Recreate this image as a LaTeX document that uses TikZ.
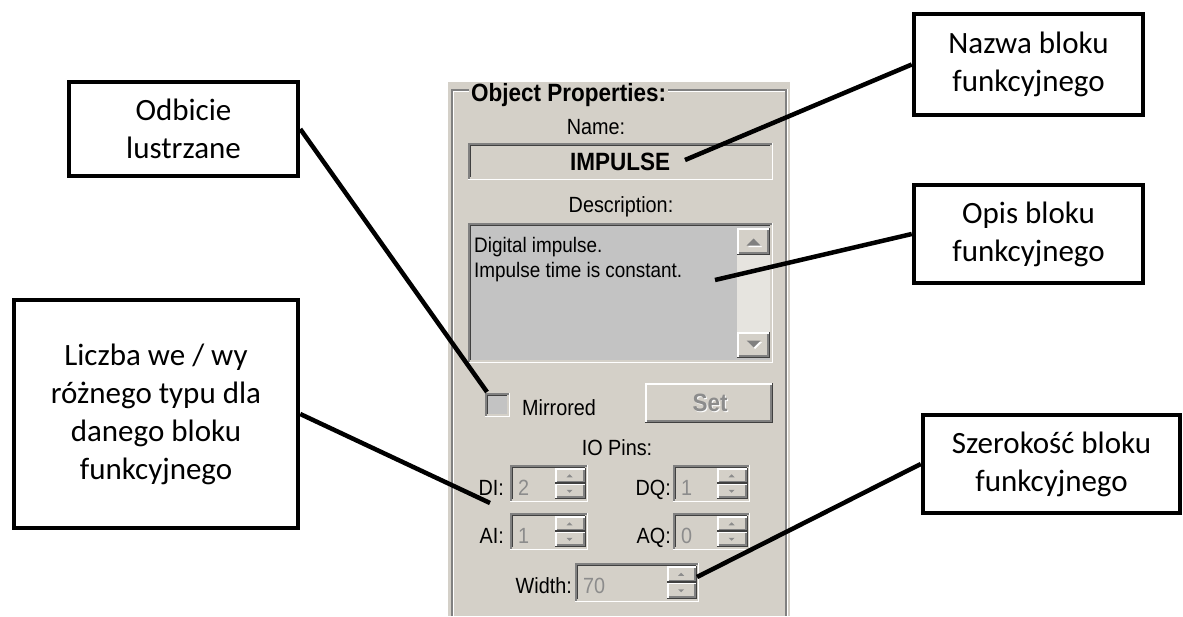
\documentclass[tikz,border=0pt]{standalone}
\usepackage{fontspec}
\setmainfont{Carlito}
\newfontfamily\uifont[FakeStretch=0.9]{Liberation Sans}

\definecolor{winface}{HTML}{D4D0C8}
\definecolor{winshadow}{HTML}{808080}
\definecolor{windark}{HTML}{404040}
\definecolor{winlight}{HTML}{FFFFFF}
\definecolor{winfield}{HTML}{C3C3C3}
\definecolor{wintrack}{HTML}{E6E4DF}
\definecolor{wingray}{HTML}{8C8C8C}

% sunken 3D box: x1 y1 x2 y2 fill
\newcommand\winsunken[5]{%
  \fill[#5] (#1,#2) rectangle (#3,#4);
  \draw[winshadow,line width=1.5] ({#1+0.75},#4) -- ({#1+0.75},{#2+0.75}) -- (#3,{#2+0.75});
  \draw[windark,line width=1.5] ({#1+2.25},{#4-1.5}) -- ({#1+2.25},{#2+2.25}) -- ({#3-1.5},{#2+2.25});
  \draw[winlight,line width=1.5] (#1,{#4-0.75}) -- ({#3-0.75},{#4-0.75}) -- ({#3-0.75},#2);
  \draw[winface,line width=1.5] ({#1+1.5},{#4-2.25}) -- ({#3-2.25},{#4-2.25}) -- ({#3-2.25},{#2+1.5});
}
% raised 3D button: x1 y1 x2 y2
\newcommand\winraised[4]{%
  \fill[winface] (#1,#2) rectangle (#3,#4);
  \draw[winlight,line width=1.5] ({#1+0.75},{#4-1.5}) -- ({#1+0.75},{#2+0.75}) -- ({#3-1.5},{#2+0.75});
  \draw[windark,line width=1.5] (#1,{#4-0.75}) -- ({#3-0.75},{#4-0.75}) -- ({#3-0.75},#2);
  \draw[winshadow,line width=1.5] ({#1+1.5},{#4-2.25}) -- ({#3-2.25},{#4-2.25}) -- ({#3-2.25},{#2+1.5});
}
% up/down spinner: x1 y1 x2 y2
\newcommand\winspin[4]{%
  \pgfmathsetmacro\spinmid{(#2+#4)/2}%
  \pgfmathsetmacro\spincx{(#1+#3)/2-1}%
  \pgfmathsetmacro\spinup{(#2+\spinmid)/2}%
  \pgfmathsetmacro\spindn{(\spinmid+#4)/2}%
  \winraised{#1}{#2}{#3}{\spinmid}%
  \winraised{#1}{\spinmid}{#3}{#4}%
  \fill[wingray] ({\spincx-3},{\spinup+1.5}) -- ({\spincx+3},{\spinup+1.5}) -- (\spincx,{\spinup-1.5}) -- cycle;
  \fill[wingray] ({\spincx-3},{\spindn-1.5}) -- ({\spincx+3},{\spindn-1.5}) -- (\spincx,{\spindn+1.5}) -- cycle;
}

\tikzset{
  ui/.style={font=\uifont\fontsize{22}{25}\selectfont, inner sep=0},
  uibold/.style={font=\uifont\bfseries\fontsize{25}{28}\selectfont, inner sep=0},
  uigray/.style={ui, text=wingray},
  callout/.style={draw=black, line width=4.5, fill=white, align=center,
    font=\fontsize{31}{38}\selectfont, inner sep=0},
  conn/.style={line width=4.5, black},
}

\begin{document}
\begin{tikzpicture}[x=1pt,y=-1pt]
\useasboundingbox (0,0) rectangle (1183,616);
\fill[white] (0,0) rectangle (1183,616);

% dialog panel
\fill[winface] (448,80) rectangle (790,616);
\draw[winlight,line width=1.5] (448,80.75) -- (790,80.75);

% etched group frame
\draw[winshadow,line width=1.5] (452,616) -- (452,90) -- (786,90) -- (786,616);
\draw[winlight,line width=1.5] (453.5,616) -- (453.5,91.5) -- (784.5,91.5);
\draw[winlight,line width=1.5] (787.5,89) -- (787.5,616);
\node[uibold, fill=winface, inner xsep=2, inner ysep=1, anchor=base west]
  (title) at (469,101) {Object Properties:};

% name
\node[ui] (namelbl) at (596,127) {Name:};
\winsunken{468}{143}{773}{180}{winface}
\node[uibold] (nameval) at (620,162) {IMPULSE};

% description
\node[ui] (desclbl) at (621,207) {Description:};
\winsunken{468}{223}{773}{363}{winfield}
\node[ui, font=\uifont\fontsize{21}{25}\selectfont, anchor=base west] (desc1) at (474,252) {Digital impulse.};
\node[ui, font=\uifont\fontsize{21}{25}\selectfont, anchor=base west] (desc2) at (474,277) {Impulse time is constant.};
% scrollbar
\fill[wintrack] (737,228) rectangle (770,358);
\winraised{737}{228}{770}{255}
\winraised{737}{332}{770}{358}
\fill[winlight] (748,247) -- (762,247) -- (755,240) -- cycle;
\fill[winshadow] (746.5,245.5) -- (760.5,245.5) -- (753.5,238.5) -- cycle;
\fill[winlight] (748,342) -- (762,342) -- (755,349) -- cycle;
\fill[winshadow] (746.5,340.5) -- (760.5,340.5) -- (753.5,347.5) -- cycle;

% mirrored checkbox and set button
\winsunken{485}{393}{510}{417}{winfield}
\node[ui, anchor=base west] (mirror) at (522,415) {Mirrored};
\winraised{645}{383}{773}{423}
\node[uibold, text=winlight] at (711,404) {Set};
\node[uibold, text=wingray] (setbtn) at (710,403) {Set};

% IO pins
\node[ui] (pins) at (617,448) {IO Pins:};

\node[ui, anchor=base east] (dilbl) at (504,495) {DI:};
\winsunken{510}{465}{588}{502}{winface}
\node[uigray, anchor=base west] (dival) at (518,495) {2};
\winspin{555}{468}{586}{499}

\node[ui, anchor=base east] (dqlbl) at (671,495) {DQ:};
\winsunken{673}{465}{750}{502}{winface}
\node[uigray, anchor=base west] (dqval) at (681,495) {1};
\winspin{717}{468}{748}{499}

\node[ui, anchor=base east] (ailbl) at (504,543) {AI:};
\winsunken{510}{513}{588}{550}{winface}
\node[uigray, anchor=base west] (aival) at (518,543) {1};
\winspin{555}{516}{586}{547}

\node[ui, anchor=base east] (aqlbl) at (671,543) {AQ:};
\winsunken{673}{513}{750}{550}{winface}
\node[uigray, anchor=base west] (aqval) at (681,543) {0};
\winspin{717}{516}{748}{547}

\node[ui, anchor=base east] (widthlbl) at (572,593) {Width:};
\winsunken{575}{563}{699}{602}{winface}
\node[uigray, anchor=base west] (widthval) at (583,593) {70};
\winspin{667}{566}{697}{599}

% pointer targets
\coordinate (namept) at (685,160);
\coordinate (descpt) at (715,280);
\coordinate (mirrorpt) at (487,392);
\coordinate (pinspt) at (490,503);
\coordinate (widthpt) at (697,577);

% callout boxes
\node[callout, minimum width=229, minimum height=94] (odb) at (183.5,129) {Odbicie\\lustrzane};
\node[callout, minimum width=284, minimum height=228] (liczba) at (156,414) {Liczba we / wy\\różnego typu dla\\danego bloku\\funkcyjnego};
\node[callout, minimum width=229, minimum height=101] (nazwa) at (1028.5,64.5) {Nazwa bloku\\funkcyjnego};
\node[callout, minimum width=229, minimum height=98] (opis) at (1028.5,234) {Opis bloku\\funkcyjnego};
\node[callout, minimum width=257, minimum height=98] (szer) at (1051.5,464) {Szerokość bloku\\funkcyjnego};

% connectors
\draw[conn] (odb.east) -- (mirrorpt);
\draw[conn] (liczba.east) -- (pinspt);
\draw[conn] (nazwa.west) -- (namept);
\draw[conn] (opis.west) -- (descpt);
\draw[conn] (szer.west) -- (widthpt);
\end{tikzpicture}
\end{document}
